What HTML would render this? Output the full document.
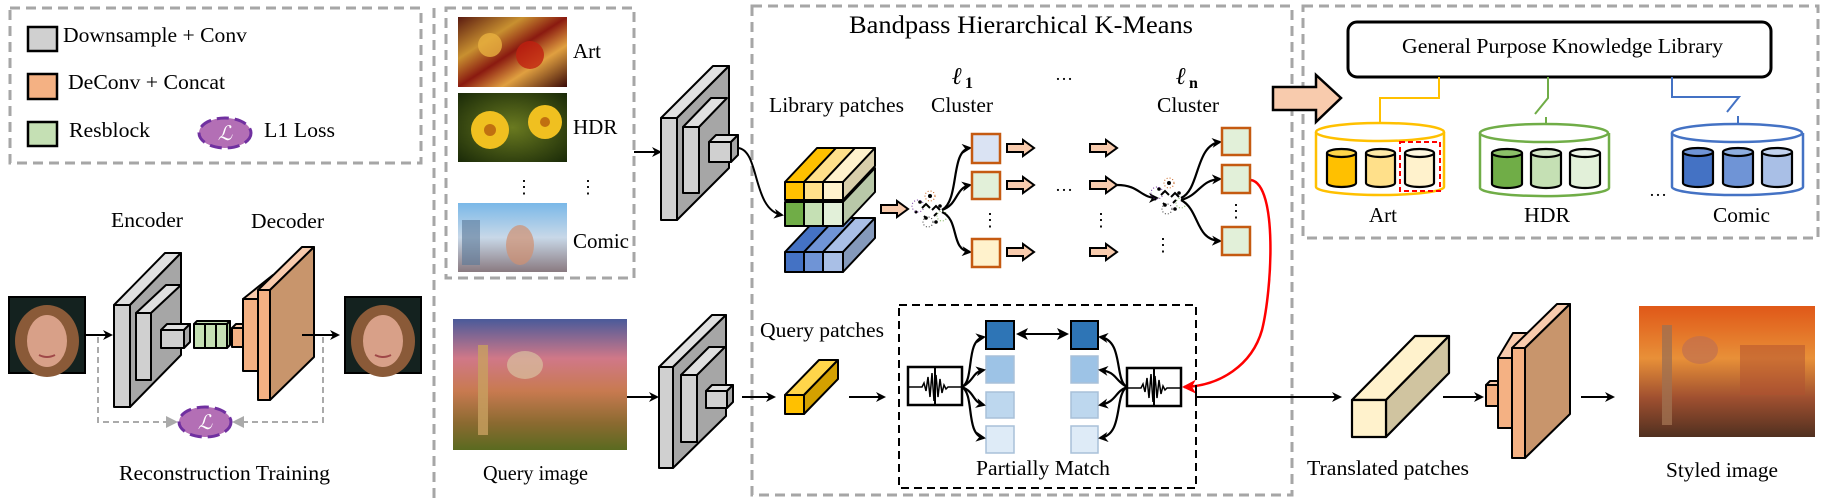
<!DOCTYPE html>
<html><head><meta charset="utf-8"><style>
html,body{margin:0;padding:0;background:#fff;}
svg{display:block;}
text{font-family:"Liberation Serif",serif;fill:#000;}
</style></head><body>
<svg width="1822" height="500" viewBox="0 0 1822 500" xmlns="http://www.w3.org/2000/svg">
<defs>
<marker id="ah" markerWidth="10" markerHeight="10" refX="8" refY="5" orient="auto" markerUnits="userSpaceOnUse"><path d="M0,0 L10,5 L0,10 L3,5 Z" fill="#000"/></marker>
<marker id="ahs" markerWidth="12" markerHeight="12" refX="10" refY="6" orient="auto-start-reverse" markerUnits="userSpaceOnUse"><path d="M0,0 L12,6 L0,12 L3,6 Z" fill="#000"/></marker>
<marker id="ahr" markerWidth="14" markerHeight="14" refX="12" refY="7" orient="auto" markerUnits="userSpaceOnUse"><path d="M0,0 L14,7 L0,14 L4,7 Z" fill="#f00"/></marker>
<marker id="ahg" markerWidth="12" markerHeight="12" refX="10" refY="6" orient="auto" markerUnits="userSpaceOnUse"><path d="M0,0 L12,6 L0,12 Z" fill="#aaa"/></marker>
<g id="parr"><path d="M0,-4 H16 V-8 L27,0 L16,8 V4 H0 Z" fill="#f8cbad" stroke="#000" stroke-width="2"/></g>
<g id="scat">
<circle cx="-12" cy="-8" r="1.8" fill="#000"/><circle cx="-2" cy="-14" r="2" fill="#000"/><circle cx="8" cy="-4" r="1.8" fill="#000"/><circle cx="-6" cy="8" r="1.8" fill="#000"/><circle cx="4" cy="12" r="1.8" fill="#000"/><circle cx="-16" cy="2" r="1.5" fill="#000"/>
<circle cx="-2" cy="-14" r="5" fill="none" stroke="#c55a11" stroke-width="1" stroke-dasharray="1 2"/><circle cx="-14" cy="-4" r="6" fill="none" stroke="#7030a0" stroke-width="1" stroke-dasharray="1 2"/><circle cx="10" cy="6" r="5" fill="none" stroke="#70ad47" stroke-width="1" stroke-dasharray="1 2"/><circle cx="-4" cy="12" r="5" fill="none" stroke="#333" stroke-width="1" stroke-dasharray="1 2"/>
<path d="M-10,-2 l4,-4 l4,4 M0,0 l4,-4 l4,4 M-8,6 l3,3 M2,6 l3,-3" stroke="#000" stroke-width="2" fill="none"/>
</g>
<g id="wave"><rect x="0" y="0" width="54" height="38" fill="#fff" stroke="#000" stroke-width="2.5"/><line x1="27" y1="0" x2="27" y2="38" stroke="#000" stroke-width="2"/><path d="M0,20 H14 L16,16 L18,24 L20,10 L22,30 L24,6 L26,34 L28,8 L30,30 L32,12 L34,26 L36,18 L38,22 L40,20 H54" fill="none" stroke="#000" stroke-width="1.5"/></g>
<linearGradient id="gArt" x1="0" y1="0" x2="1" y2="1"><stop offset="0" stop-color="#5a1a10"/><stop offset=".3" stop-color="#c89030"/><stop offset=".5" stop-color="#8a1a10"/><stop offset=".7" stop-color="#e0a040"/><stop offset="1" stop-color="#3a0a08"/></linearGradient>
<radialGradient id="gHdr" cx=".5" cy=".5" r=".7"><stop offset="0" stop-color="#6a7a20"/><stop offset="1" stop-color="#1a2a08"/></radialGradient>
<linearGradient id="gCom" x1="0" y1="0" x2="0" y2="1"><stop offset="0" stop-color="#7ab8e8"/><stop offset=".5" stop-color="#c8d8e8"/><stop offset="1" stop-color="#8a7a80"/></linearGradient>
<linearGradient id="gQ" x1="0" y1="0" x2="0" y2="1"><stop offset="0" stop-color="#4a5a9a"/><stop offset=".3" stop-color="#d07888"/><stop offset=".55" stop-color="#c87a50"/><stop offset=".8" stop-color="#8a6a30"/><stop offset="1" stop-color="#5a6a20"/></linearGradient>
<linearGradient id="gS" x1="0" y1="0" x2="0" y2="1"><stop offset="0" stop-color="#e05818"/><stop offset=".4" stop-color="#e89038"/><stop offset=".7" stop-color="#a05030"/><stop offset="1" stop-color="#503020"/></linearGradient>
<g id="face"><rect x="0" y="0" width="76" height="76" fill="#14221f" stroke="#000" stroke-width="2"/><ellipse cx="38" cy="44" rx="32" ry="36" fill="#8a5a38"/><ellipse cx="38" cy="44" rx="20" ry="26" fill="#d8a088"/><path d="M30,58 Q38,62 46,58" stroke="#a04848" stroke-width="2" fill="none"/></g>
</defs>

<!-- dashed panels -->
<g fill="none" stroke="#a6a6a6" stroke-width="3" stroke-dasharray="10 6">
<rect x="10" y="8" width="411" height="155"/>
<line x1="434" y1="8" x2="434" y2="500"/>
<rect x="446" y="8" width="188" height="270"/>
<rect x="752" y="6" width="540" height="489"/>
<rect x="1303" y="6" width="515" height="232"/>
</g>

<!-- legend -->
<rect x="28" y="27" width="29" height="24" fill="#d0d0d0" stroke="#000" stroke-width="2.5"/>
<text x="63" y="42" font-size="21" textLength="184" lengthAdjust="spacingAndGlyphs">Downsample + Conv</text>
<rect x="28" y="74" width="29" height="25" fill="#f4b183" stroke="#000" stroke-width="2.5"/>
<text x="68" y="89" font-size="21" textLength="157" lengthAdjust="spacingAndGlyphs">DeConv + Concat</text>
<rect x="28" y="122" width="29" height="24" fill="#c5e0b4" stroke="#000" stroke-width="2.5"/>
<text x="69" y="137" font-size="21" textLength="81" lengthAdjust="spacingAndGlyphs">Resblock</text>
<ellipse cx="225" cy="133" rx="26" ry="15" fill="#b36fb5" stroke="#7030a0" stroke-width="3" stroke-dasharray="12 6"/>
<text x="225" y="140" font-size="20" font-style="italic" fill="#fff" text-anchor="middle" style="fill:#fff">ℒ</text>
<text x="264" y="137" font-size="21" textLength="71" lengthAdjust="spacingAndGlyphs">L1 Loss</text>

<!-- reconstruction -->
<text x="111" y="227" font-size="21" textLength="72" lengthAdjust="spacingAndGlyphs">Encoder</text>
<text x="251" y="228" font-size="21" textLength="73" lengthAdjust="spacingAndGlyphs">Decoder</text>
<use href="#face" x="9" y="297"/>
<use href="#face" x="345" y="297"/>
<line x1="85" y1="335" x2="111" y2="335" stroke="#000" stroke-width="2" marker-end="url(#ah)"/>
<g stroke="#000" stroke-width="2" stroke-linejoin="round">
<polygon points="114,305 165,253 181,253 130,305" fill="#e0e0e0"/>
<polygon points="130,305 181,253 181,355 130,407" fill="#a6a6a6"/>
<rect x="114" y="305" width="16" height="102" fill="#d0d0d0"/>
<polygon points="136,313 166,285 181,285 151,313" fill="#e0e0e0"/>
<rect x="136" y="313" width="15" height="67" fill="#d0d0d0"/>
<polygon points="161,330 167,324 190,324 184,330" fill="#e0e0e0"/>
<polygon points="184,330 190,324 190,342 184,348" fill="#a6a6a6"/>
<rect x="161" y="330" width="23" height="18" fill="#d0d0d0"/>
<polygon points="194,324 197,321 230,321 227,324" fill="#c5e0b4"/>
<polygon points="227,324 230,321 230,345 227,348" fill="#a9c99a"/>
<rect x="194" y="324" width="11" height="24" fill="#c5e0b4"/><rect x="205" y="324" width="11" height="24" fill="#c5e0b4"/><rect x="216" y="324" width="11" height="24" fill="#c5e0b4"/>
<polygon points="232,328 236,324 247,324 243,328" fill="#f8cbad"/>
<rect x="232" y="328" width="11" height="19" fill="#f4b183"/>
<polygon points="243,299 273,275 288,275 258,299" fill="#f8cbad"/>
<rect x="243" y="299" width="15" height="72" fill="#f4b183"/>
<polygon points="258,290 302,247 314,247 270,290" fill="#f8cbad"/>
<polygon points="270,290 314,247 314,357 270,400" fill="#c8956c"/>
<rect x="258" y="290" width="12" height="110" fill="#f4b183"/>
</g>
<line x1="302" y1="335" x2="338" y2="335" stroke="#000" stroke-width="2" marker-end="url(#ah)"/>
<path d="M98,337 V422 H176" fill="none" stroke="#aaa" stroke-width="2" stroke-dasharray="6 4" marker-end="url(#ahg)"/>
<path d="M323,337 V422 H234" fill="none" stroke="#aaa" stroke-width="2" stroke-dasharray="6 4" marker-end="url(#ahg)"/>
<ellipse cx="205" cy="422" rx="26" ry="15" fill="#b36fb5" stroke="#7030a0" stroke-width="3" stroke-dasharray="12 6"/>
<text x="205" y="429" font-size="20" font-style="italic" text-anchor="middle" style="fill:#fff">ℒ</text>
<text x="119" y="480" font-size="21" textLength="211" lengthAdjust="spacingAndGlyphs">Reconstruction Training</text>

<!-- style images -->
<rect x="458" y="17" width="109" height="70" fill="url(#gArt)"/>
<circle cx="490" cy="45" r="12" fill="#e8b040" opacity=".8"/><circle cx="530" cy="55" r="14" fill="#c02010" opacity=".8"/>
<text x="573" y="58" font-size="21">Art</text>
<rect x="458" y="93" width="109" height="69" fill="url(#gHdr)"/>
<circle cx="490" cy="130" r="19" fill="#f0c020"/><circle cx="490" cy="130" r="6" fill="#c07010"/>
<circle cx="545" cy="122" r="17" fill="#f0c020"/><circle cx="545" cy="122" r="5" fill="#c07010"/>
<text x="573" y="134" font-size="21">HDR</text>
<text x="524" y="193" font-size="18" text-anchor="middle">⋮</text>
<text x="588" y="193" font-size="18" text-anchor="middle">⋮</text>
<rect x="458" y="203" width="109" height="69" fill="url(#gCom)"/>
<rect x="462" y="220" width="18" height="45" fill="#5a7898" opacity=".6"/><ellipse cx="520" cy="245" rx="14" ry="20" fill="#d09070" opacity=".7"/>
<text x="573" y="248" font-size="21">Comic</text>
<rect x="453" y="319" width="174" height="131" fill="url(#gQ)"/>
<rect x="478" y="345" width="10" height="90" fill="#c8a060" opacity=".8"/><ellipse cx="525" cy="365" rx="18" ry="14" fill="#d8c0a0" opacity=".7"/>
<text x="483" y="480" font-size="21" textLength="105" lengthAdjust="spacingAndGlyphs">Query image</text>

<!-- library encoder -->
<line x1="634" y1="152" x2="660" y2="152" stroke="#000" stroke-width="2" marker-end="url(#ah)"/>
<g stroke="#000" stroke-width="2" stroke-linejoin="round">
<polygon points="661,118 713,66 729,66 677,118" fill="#e0e0e0"/>
<polygon points="677,118 729,66 729,168 677,220" fill="#a6a6a6"/>
<rect x="661" y="118" width="16" height="102" fill="#d0d0d0"/>
<polygon points="683,127 711,98 727,98 699,127" fill="#e0e0e0"/>
<rect x="683" y="127" width="16" height="66" fill="#d0d0d0"/>
<polygon points="709,142 716,135 738,135 731,142" fill="#e0e0e0"/>
<polygon points="731,142 738,135 738,155 731,162" fill="#a6a6a6"/>
<rect x="709" y="142" width="22" height="20" fill="#d0d0d0"/>
</g>
<path d="M738,148 C760,150 752,210 782,215" fill="none" stroke="#000" stroke-width="2" marker-end="url(#ah)"/>

<!-- query encoder -->
<line x1="627" y1="397" x2="657" y2="397" stroke="#000" stroke-width="2" marker-end="url(#ah)"/>
<g stroke="#000" stroke-width="2" stroke-linejoin="round">
<polygon points="659,367 712,315 726,315 673,367" fill="#e0e0e0"/>
<polygon points="673,367 726,315 726,416 673,468" fill="#a6a6a6"/>
<rect x="659" y="367" width="14" height="101" fill="#d0d0d0"/>
<polygon points="681,375 709,347 725,347 697,375" fill="#e0e0e0"/>
<rect x="681" y="375" width="16" height="67" fill="#d0d0d0"/>
<polygon points="706,391 712,385 733,385 727,391" fill="#e0e0e0"/>
<polygon points="727,391 733,385 733,402 727,408" fill="#a6a6a6"/>
<rect x="706" y="391" width="21" height="17" fill="#d0d0d0"/>
</g>
<line x1="742" y1="397" x2="774" y2="397" stroke="#000" stroke-width="2" marker-end="url(#ah)"/>

<!-- big box content -->
<text x="849" y="33" font-size="25" textLength="344" lengthAdjust="spacingAndGlyphs">Bandpass Hierarchical K-Means</text>
<text x="769" y="112" font-size="21" textLength="135" lengthAdjust="spacingAndGlyphs">Library patches</text>
<text x="952" y="84" font-size="24" font-style="italic" font-weight="bold">ℓ</text><text x="965" y="88" font-size="16" font-weight="bold">1</text>
<text x="931" y="112" font-size="21" textLength="62" lengthAdjust="spacingAndGlyphs">Cluster</text>
<text x="1055" y="80" font-size="18">…</text>
<text x="1176" y="84" font-size="24" font-style="italic" font-weight="bold">ℓ</text><text x="1189" y="88" font-size="16" font-weight="bold">n</text>
<text x="1157" y="112" font-size="21" textLength="62" lengthAdjust="spacingAndGlyphs">Cluster</text>

<!-- library patch stack -->
<g stroke="#000" stroke-width="2" stroke-linejoin="round">
<!-- blue -->
<polygon points="785,252 817,218 836,218 804,252" fill="#4472c4"/>
<polygon points="804,252 836,218 855,218 823,252" fill="#6f94d6"/>
<polygon points="823,252 855,218 875,218 843,252" fill="#a9bfe6"/>
<polygon points="843,252 875,218 875,238 843,272" fill="#8499bb"/>
<rect x="785" y="252" width="19" height="20" fill="#4472c4"/><rect x="804" y="252" width="19" height="20" fill="#6f94d6"/><rect x="823" y="252" width="20" height="20" fill="#a9bfe6"/>
<!-- green -->
<polygon points="843,202 875,168 875,192 843,226" fill="#b8c8a8"/>
<rect x="785" y="202" width="19" height="24" fill="#70ad47"/><rect x="804" y="202" width="19" height="24" fill="#c5e0b4"/><rect x="823" y="202" width="20" height="24" fill="#e2f0d9"/>
<!-- yellow -->
<polygon points="785,182 817,148 836,148 804,182" fill="#ffc000"/>
<polygon points="804,182 836,148 855,148 823,182" fill="#ffe08a"/>
<polygon points="823,182 855,148 875,148 843,182" fill="#fff2cc"/>
<polygon points="843,182 875,148 875,166 843,200" fill="#d8ceaa"/>
<rect x="785" y="182" width="19" height="18" fill="#ffc000"/><rect x="804" y="182" width="19" height="18" fill="#ffe08a"/><rect x="823" y="182" width="20" height="18" fill="#fff2cc"/>
</g>
<use href="#parr" x="881" y="209"/>
<use href="#scat" x="932" y="210"/>
<g fill="none" stroke="#000" stroke-width="2.2">
<path d="M942,210 C960,200 950,150 970,148" marker-end="url(#ah)"/>
<path d="M942,210 C958,205 955,188 970,185" marker-end="url(#ah)"/>
<path d="M942,212 C960,220 950,250 970,252" marker-end="url(#ah)"/>
</g>
<g stroke="#c55a11" stroke-width="2.5">
<rect x="972" y="134" width="28" height="29" fill="#dae3f3"/>
<rect x="972" y="172" width="28" height="27" fill="#e2f0d9"/>
<rect x="972" y="239" width="28" height="28" fill="#fff2cc"/>
</g>
<text x="990" y="226" font-size="18" text-anchor="middle">⋮</text>
<use href="#parr" x="1007" y="148"/><use href="#parr" x="1007" y="185"/><use href="#parr" x="1007" y="252"/>
<use href="#parr" x="1090" y="148"/><use href="#parr" x="1090" y="185"/><use href="#parr" x="1090" y="252"/>
<text x="1055" y="191" font-size="18">…</text>
<text x="1101" y="226" font-size="18" text-anchor="middle">⋮</text>
<text x="1163" y="251" font-size="18" text-anchor="middle">⋮</text>
<path d="M1117,185 C1140,185 1140,198 1157,198" fill="none" stroke="#000" stroke-width="2.2" marker-end="url(#ah)"/>
<use href="#scat" x="1171" y="197"/>
<g fill="none" stroke="#000" stroke-width="2.2">
<path d="M1181,198 C1200,190 1195,145 1220,142" marker-end="url(#ah)"/>
<path d="M1181,200 C1200,195 1200,180 1220,179" marker-end="url(#ah)"/>
<path d="M1181,200 C1200,210 1195,240 1220,241" marker-end="url(#ah)"/>
</g>
<g stroke="#c55a11" stroke-width="2.5" fill="#e2f0d9">
<rect x="1222" y="128" width="28" height="27"/>
<rect x="1222" y="165" width="28" height="28"/>
<rect x="1222" y="227" width="28" height="28"/>
</g>
<text x="1236" y="217" font-size="18" text-anchor="middle">⋮</text>
<path d="M1251,180 C1278,185 1272,290 1262,330 C1252,365 1220,386 1184,387" fill="none" stroke="#f00" stroke-width="2.5" marker-end="url(#ahr)"/>

<!-- query patches -->
<text x="760" y="337" font-size="21" textLength="124" lengthAdjust="spacingAndGlyphs">Query patches</text>
<g stroke="#000" stroke-width="2" stroke-linejoin="round">
<polygon points="785,395 819,360 838,360 804,395" fill="#ffd54a"/>
<polygon points="804,395 838,360 838,379 804,414" fill="#d4a000"/>
<rect x="785" y="395" width="19" height="19" fill="#ffc000"/>
</g>
<line x1="849" y1="397" x2="884" y2="397" stroke="#000" stroke-width="2" marker-end="url(#ah)"/>

<!-- partially match -->
<rect x="899" y="305" width="297" height="183" fill="none" stroke="#000" stroke-width="2" stroke-dasharray="8 5"/>
<use href="#wave" x="908" y="367"/>
<use href="#wave" x="1127" y="368"/>
<g stroke="#000" stroke-width="2"><rect x="986" y="321" width="28" height="28" fill="#2e75b6"/><rect x="1071" y="321" width="27" height="28" fill="#2e75b6"/></g>
<g stroke="#a8c0d8" stroke-width="1.5">
<rect x="986" y="356" width="28" height="27" fill="#9dc3e6"/><rect x="1071" y="356" width="27" height="27" fill="#9dc3e6"/>
<rect x="986" y="392" width="28" height="26" fill="#bdd7ee"/><rect x="1071" y="392" width="27" height="26" fill="#bdd7ee"/>
<rect x="986" y="426" width="28" height="27" fill="#deebf7"/><rect x="1071" y="426" width="27" height="27" fill="#deebf7"/>
</g>
<line x1="1018" y1="334" x2="1067" y2="334" stroke="#000" stroke-width="2" marker-start="url(#ahs)" marker-end="url(#ahs)"/>
<g fill="none" stroke="#000" stroke-width="2.2">
<path d="M962,387 C975,380 965,340 984,337" marker-end="url(#ah)"/>
<path d="M962,387 C975,380 972,372 984,370" marker-end="url(#ah)"/>
<path d="M962,387 C975,392 972,402 984,405" marker-end="url(#ah)"/>
<path d="M962,387 C975,395 965,435 984,438" marker-end="url(#ah)"/>
<path d="M1127,387 C1114,380 1124,340 1100,337" marker-end="url(#ah)"/>
<path d="M1127,387 C1114,380 1117,372 1100,370" marker-end="url(#ah)"/>
<path d="M1127,387 C1114,392 1117,402 1100,405" marker-end="url(#ah)"/>
<path d="M1127,387 C1114,395 1124,435 1100,438" marker-end="url(#ah)"/>
</g>
<text x="976" y="475" font-size="21" textLength="134" lengthAdjust="spacingAndGlyphs">Partially Match</text>
<path d="M1196,387 V397 H1340" fill="none" stroke="#000" stroke-width="2" marker-end="url(#ah)"/>

<!-- knowledge library -->
<path d="M1273,87 H1316 V75 L1341,98 L1316,122 V110 H1273 Z" fill="#f8cbad" stroke="#000" stroke-width="2.5"/>
<rect x="1348" y="22" width="423" height="55" rx="9" fill="#fff" stroke="#000" stroke-width="3"/>
<text x="1402" y="53" font-size="21" textLength="321" lengthAdjust="spacingAndGlyphs">General Purpose Knowledge Library</text>
<path d="M1439,77 V98 H1380 V122" fill="none" stroke="#ffc000" stroke-width="2"/>
<path d="M1548,77 V98 L1535,114 M1546,117 V124" fill="none" stroke="#70ad47" stroke-width="2"/>
<path d="M1672,77 V97 H1739 L1727,112 M1738,116 V124" fill="none" stroke="#4472c4" stroke-width="2"/>
<!-- cylinders -->
<g stroke-width="2.5" fill="#fff">
<path d="M1316,132 V187 A64,8 0 0 0 1444,187 V132" stroke="#ffc000"/><ellipse cx="1380" cy="132" rx="64" ry="9" stroke="#ffc000"/>
<path d="M1480,133 V188 A64,8 0 0 0 1609,188 V133" stroke="#70ad47"/><ellipse cx="1544" cy="133" rx="64" ry="9" stroke="#70ad47"/>
<path d="M1672,133 V187 A65,8 0 0 0 1803,187 V133" stroke="#4472c4"/><ellipse cx="1737" cy="133" rx="65" ry="9" stroke="#4472c4"/>
</g>
<g stroke="#000" stroke-width="2.2">
<path d="M1327,153 V183 A14.5,4 0 0 0 1356,183 V153" fill="#ffc000"/><ellipse cx="1341.5" cy="153" rx="14.5" ry="4" fill="#ffd54a"/>
<path d="M1366,153 V183 A14.5,4 0 0 0 1395,183 V153" fill="#ffe08a"/><ellipse cx="1380.5" cy="153" rx="14.5" ry="4" fill="#ffeaa8"/>
<path d="M1405,153 V183 A14.5,4 0 0 0 1434,183 V153" fill="#fff2cc"/><ellipse cx="1419.5" cy="153" rx="14.5" ry="4" fill="#fff8e0"/>
<path d="M1492,153 V184 A15,4 0 0 0 1522,184 V153" fill="#70ad47"/><ellipse cx="1507" cy="153" rx="15" ry="4" fill="#8cc068"/>
<path d="M1531,153 V184 A15,4 0 0 0 1561,184 V153" fill="#c5e0b4"/><ellipse cx="1546" cy="153" rx="15" ry="4" fill="#d5e8c8"/>
<path d="M1570,153 V184 A15,4 0 0 0 1600,184 V153" fill="#e2f0d9"/><ellipse cx="1585" cy="153" rx="15" ry="4" fill="#eef6e8"/>
<path d="M1683,152 V183 A15,4 0 0 0 1713,183 V152" fill="#4472c4"/><ellipse cx="1698" cy="152" rx="15" ry="4" fill="#6f94d6"/>
<path d="M1723,152 V183 A15,4 0 0 0 1753,183 V152" fill="#6f94d6"/><ellipse cx="1738" cy="152" rx="15" ry="4" fill="#8eaee0"/>
<path d="M1762,152 V183 A15,4 0 0 0 1792,183 V152" fill="#a9bfe6"/><ellipse cx="1777" cy="152" rx="15" ry="4" fill="#c2d2ee"/>
</g>
<rect x="1400" y="142" width="40" height="49" fill="none" stroke="#f00" stroke-width="2" stroke-dasharray="5 3"/>
<text x="1649" y="196" font-size="18">…</text>
<text x="1369" y="222" font-size="21" textLength="28" lengthAdjust="spacingAndGlyphs">Art</text>
<text x="1524" y="222" font-size="21" textLength="46" lengthAdjust="spacingAndGlyphs">HDR</text>
<text x="1713" y="222" font-size="21" textLength="57" lengthAdjust="spacingAndGlyphs">Comic</text>

<!-- translated / decoder / styled -->
<g stroke="#000" stroke-width="2.2" stroke-linejoin="round">
<polygon points="1352,400 1415,336 1449,336 1386,400" fill="#fff2cc"/>
<polygon points="1386,400 1449,336 1449,373 1386,437" fill="#d0c4a0"/>
<rect x="1352" y="400" width="34" height="37" fill="#fff2cc"/>
</g>
<line x1="1443" y1="397" x2="1482" y2="397" stroke="#000" stroke-width="2" marker-end="url(#ah)"/>
<g stroke="#000" stroke-width="2" stroke-linejoin="round">
<polygon points="1486,385 1490,381 1502,381 1498,385" fill="#f8cbad"/>
<rect x="1486" y="385" width="12" height="21" fill="#f4b183"/>
<polygon points="1498,358 1513,333 1527,333 1512,358" fill="#f8cbad"/>
<rect x="1498" y="358" width="14" height="70" fill="#f4b183"/>
<polygon points="1512,348 1557,304 1570,304 1525,348" fill="#f8cbad"/>
<polygon points="1525,348 1570,304 1570,414 1525,458" fill="#c8956c"/>
<rect x="1512" y="348" width="13" height="110" fill="#f4b183"/>
</g>
<line x1="1581" y1="397" x2="1613" y2="397" stroke="#000" stroke-width="2" marker-end="url(#ah)"/>
<rect x="1639" y="306" width="176" height="131" fill="url(#gS)"/>
<rect x="1662" y="325" width="10" height="100" fill="#a07050" opacity=".8"/><ellipse cx="1700" cy="350" rx="18" ry="14" fill="#c07050" opacity=".7"/><rect x="1740" y="345" width="65" height="50" fill="#b05030" opacity=".5"/>
<text x="1307" y="475" font-size="21" textLength="162" lengthAdjust="spacingAndGlyphs">Translated patches</text>
<text x="1666" y="477" font-size="21" textLength="112" lengthAdjust="spacingAndGlyphs">Styled image</text>
</svg>
</body></html>
